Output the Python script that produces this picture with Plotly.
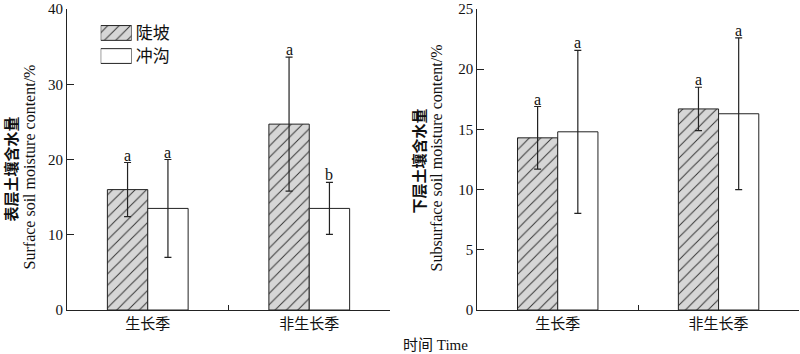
import plotly.graph_objects as go

categories = ["生长季", "非生长季"]
series_names = ["陡坡", "冲沟"]

# Surface soil moisture (%)
surf_slope = [16.0, 24.7]
surf_slope_err = [3.6, 8.9]
surf_gully = [13.5, 13.5]
surf_gully_err = [6.5, 3.45]
surf_letters_slope = ["a", "a"]
surf_letters_gully = ["a", "b"]

# Subsurface soil moisture (%)
sub_slope = [14.3, 16.7]
sub_slope_err = [2.6, 1.8]
sub_gully = [14.8, 16.3]
sub_gully_err = [6.77, 6.3]
sub_letters_slope = ["a", "a"]
sub_letters_gully = ["a", "a"]

y1_ticks = [0, 10, 20, 30, 40]
y2_ticks = [0, 5, 10, 15, 20, 25]

FONT = "Liberation Serif, 'Noto Sans CJK SC', serif"
EDGE = "#222"
GRAY = "#d6d6d6"
hatch = dict(shape="/", bgcolor=GRAY, fgcolor="#333", size=8, solidity=0.12, fillmode="replace")

W, L, R, T, B, H = 800, 67, 1, 6, 44, 354
pw = W - L - R
ph = H - T - B
def px(x):
    return (x - L) / pw
def py(y):
    return (H - B - y) / ph

fig = go.Figure()

def add_panel(xa, ya, slope, slope_err, gully, gully_err):
    fig.add_trace(go.Bar(x=categories, y=slope, name=series_names[0], xaxis=xa, yaxis=ya,
                         marker=dict(color=GRAY, pattern=hatch, line=dict(color=EDGE, width=1)),
                         error_y=dict(type="data", array=slope_err, color=EDGE, thickness=1.2, width=3.5),
                         showlegend=False))
    fig.add_trace(go.Bar(x=categories, y=gully, name=series_names[1], xaxis=xa, yaxis=ya,
                         marker=dict(color="white", line=dict(color=EDGE, width=1)),
                         error_y=dict(type="data", array=gully_err, color=EDGE, thickness=1.2, width=3.5),
                         showlegend=False))

add_panel("x", "y", surf_slope, surf_slope_err, surf_gully, surf_gully_err)
add_panel("x2", "y2", sub_slope, sub_slope_err, sub_gully, sub_gully_err)

# legend swatches on a hidden helper axis
fig.add_trace(go.Bar(x=[1], y=[series_names[0]], orientation="h", xaxis="x3", yaxis="y3", width=0.64,
                     marker=dict(color=GRAY, pattern=hatch, line=dict(color=EDGE, width=1)),
                     showlegend=False, hoverinfo="skip"))
fig.add_trace(go.Bar(x=[1], y=[series_names[1]], orientation="h", xaxis="x3", yaxis="y3", width=0.64,
                     marker=dict(color="white", line=dict(color=EDGE, width=1)),
                     showlegend=False, hoverinfo="skip"))

annotations = []
def letters(xref, yref, vals, errs, labs, off):
    for i, (v, e, t) in enumerate(zip(vals, errs, labs)):
        annotations.append(dict(x=i + off, y=v + e, xref=xref, yref=yref, text=t, showarrow=False,
                                yanchor="bottom", yshift=-3, font=dict(family=FONT, size=16, color="#111")))

letters("x", "y", surf_slope, surf_slope_err, surf_letters_slope, -0.125)
letters("x", "y", surf_gully, surf_gully_err, surf_letters_gully, 0.125)
letters("x2", "y2", sub_slope, sub_slope_err, sub_letters_slope, -0.125)
letters("x2", "y2", sub_gully, sub_gully_err, sub_letters_gully, 0.125)

def vtitle(xpix, ypix, text, size, bold=False):
    annotations.append(dict(x=px(xpix), y=py(ypix), xref="paper", yref="paper", textangle=-90,
                            showarrow=False, text=("<b>%s</b>" % text) if bold else text,
                            font=dict(family=FONT, size=size, color="#111"),
                            xanchor="center", yanchor="middle"))

vtitle(11, 168, "表层土壤含水量", 15, bold=True)
vtitle(29, 166, "Surface soil moisture content/%", 16)
vtitle(419, 160, "下层土壤含水量", 15, bold=True)
vtitle(437, 157, "Subsurface soil moisture content/%", 16)

annotations.append(dict(x=px(436), y=py(345), xref="paper", yref="paper", showarrow=False,
                        text="时间 Time", font=dict(family=FONT, size=15, color="#111"),
                        xanchor="center", yanchor="middle"))

xcommon = dict(type="category", range=[-0.5, 1.5], showline=True, linecolor=EDGE, linewidth=1.2,
               ticks="inside", tickson="boundaries", ticklen=5, tickcolor=EDGE, showgrid=False,
               zeroline=False, tickfont=dict(family=FONT, size=15, color="#111"))
ycommon = dict(showline=True, linecolor=EDGE, linewidth=1.2, ticks="inside", ticklen=7, tickcolor=EDGE,
               showgrid=False, zeroline=False, ticklabeloverflow="allow",
               tickfont=dict(family=FONT, size=15, color="#111"))

fig.update_layout(
    width=W, height=H, margin=dict(l=L, r=R, t=T, b=B),
    paper_bgcolor="white", plot_bgcolor="white",
    barmode="group", bargap=0.5, bargroupgap=0,
    font=dict(family=FONT, color="#111"),
    xaxis=dict(domain=[0, px(390)], anchor="y", **xcommon),
    yaxis=dict(range=[0, 40], tickvals=y1_ticks, anchor="x", **ycommon),
    xaxis2=dict(domain=[px(477.3), 1], anchor="y2", **xcommon),
    yaxis2=dict(range=[0, 25], tickvals=y2_ticks, anchor="x2", **ycommon),
    xaxis3=dict(domain=[px(100.7), px(131.7)], range=[0, 1], anchor="y3", visible=False, fixedrange=True),
    yaxis3=dict(domain=[py(65.15), py(18.55)], range=[1.5, -0.5], anchor="x3", side="right",
                type="category", showline=False, showgrid=False, zeroline=False, ticks="",
                ticklabelstandoff=3, tickfont=dict(family=FONT, size=17, color="#111")),
    annotations=annotations,
)

fig.write_html("out.html")
